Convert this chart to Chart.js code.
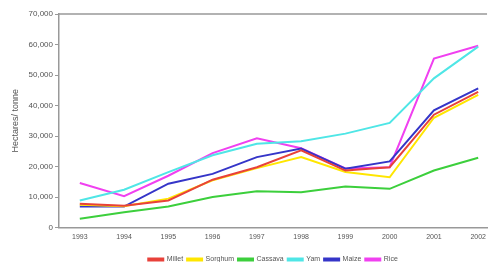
<!DOCTYPE html>
<html lang="en">
<head>
<meta charset="UTF-8">
<title>Hectares per tonne 1993-2002</title>
<script src="https://cdn.jsdelivr.net/npm/chart.js"></script>
<style>
  html, body { margin: 0; padding: 0; background: #fff; }
  #wrap { width: 491px; height: 262px; }
</style>
</head>
<body>
<div id="wrap"><canvas id="myChart" width="491" height="262"></canvas></div>
<script>
// data
var years = [1993, 1994, 1995, 1996, 1997, 1998, 1999, 2000, 2001, 2002];
var millet  = [7800, 7200, 8900, 15700, 19800, 25300, 18700, 19800, 37000, 44500];
var sorghum = [7500, 7000, 9500, 15500, 19500, 23100, 18200, 16500, 36000, 43500];
var cassava = [2900, 5000, 6900, 10000, 11900, 11600, 13500, 12700, 18700, 22900];
var yam     = [8900, 12400, 18200, 23700, 27500, 28300, 30800, 34300, 48900, 59300];
var maize   = [6900, 6900, 14400, 17600, 23100, 25900, 19300, 21700, 38400, 45600];
var rice    = [14600, 10300, 17000, 24400, 29300, 26000, 19400, 19800, 55400, 59600];
var yTicks = [0, 10000, 20000, 30000, 40000, 50000, 60000, 70000];

function pts(arr) {
    return arr.map(function (v, i) { return { x: years[i], y: v }; });
}
function ds(label, arr, color) {
    return {
        label: label,
        data: pts(arr),
        borderColor: color,
        backgroundColor: color,
        borderWidth: 2,
        pointRadius: 0,
        tension: 0,
        fill: false
    };
}

// grey frame line along the top of the plot
var topLine = {
    id: 'topLine',
    afterDraw: function (chart) {
        var a = chart.chartArea, c = chart.ctx;
        c.save();
        c.strokeStyle = '#999';
        c.lineWidth = 1.5;
        c.beginPath();
        c.moveTo(a.left, a.top);
        c.lineTo(a.right, a.top);
        c.stroke();
        c.restore();
    }
};

// center the legend under the plot and push it down a bit
var legendShift = {
    id: 'legendShift',
    afterLayout: function (chart) {
        var L = chart.legend, a = chart.chartArea;
        if (!L) return;
        var dx = (a.left + a.right) / 2 - (L.left + L.right) / 2;
        L.left += dx; L.right += dx;
        L.top += 11; L.bottom += 11;
    }
};

var ctx = document.getElementById('myChart').getContext('2d');
var myChart = new Chart(ctx, {
    type: 'line',
    data: {
        datasets: [
            ds('Millet', millet, '#e8413a'),
            ds('Sorghum', sorghum, '#ffe600'),
            ds('Cassava', cassava, '#3ccf3c'),
            ds('Yam', yam, '#4fe6e6'),
            ds('Maize', maize, '#3535c8'),
            ds('Rice', rice, '#f040f0')
        ]
    },
    options: {
        responsive: false,
        animation: false,
        layout: { padding: { top: 14, right: 1, left: 10, bottom: 0 } },
        plugins: {
            tooltip: { enabled: false },
            legend: {
                position: 'bottom',
                labels: {
                    boxWidth: 15,
                    boxHeight: 2,
                    padding: 4,
                    color: '#555',
                    font: { family: 'Liberation Sans', size: 7 }
                }
            }
        },
        scales: {
            x: {
                type: 'linear',
                min: 1992.53,
                max: 2002.2,
                afterBuildTicks: function (scale) {
                    scale.ticks = years.map(function (y) { return { value: y }; });
                },
                afterFit: function (scale) { scale.height -= 5; },
                grid: { display: false, drawTicks: false },
                border: { display: true, color: '#999', width: 1.5 },
                ticks: {
                    padding: 5,
                    maxRotation: 0,
                    color: '#555',
                    font: { family: 'Liberation Sans', size: 7 },
                    callback: function (v) { return String(v); }
                }
            },
            y: {
                min: 0,
                max: 70000,
                afterBuildTicks: function (scale) {
                    scale.ticks = yTicks.map(function (v) { return { value: v }; });
                },
                afterFit: function (scale) { scale.width = 49; },
                grid: { drawOnChartArea: false, tickLength: 4, color: '#999' },
                border: { display: true, color: '#999', width: 1.5 },
                title: {
                    display: true,
                    text: 'Hectares/ tonne',
                    color: '#555',
                    padding: 0,
                    font: { family: 'Liberation Sans', size: 9 }
                },
                ticks: {
                    padding: 2,
                    color: '#555',
                    font: { family: 'Liberation Sans', size: 8 },
                    callback: function (v) { return v.toLocaleString('en-US'); }
                }
            }
        }
    },
    plugins: [topLine, legendShift]
});
</script>
</body>
</html>
